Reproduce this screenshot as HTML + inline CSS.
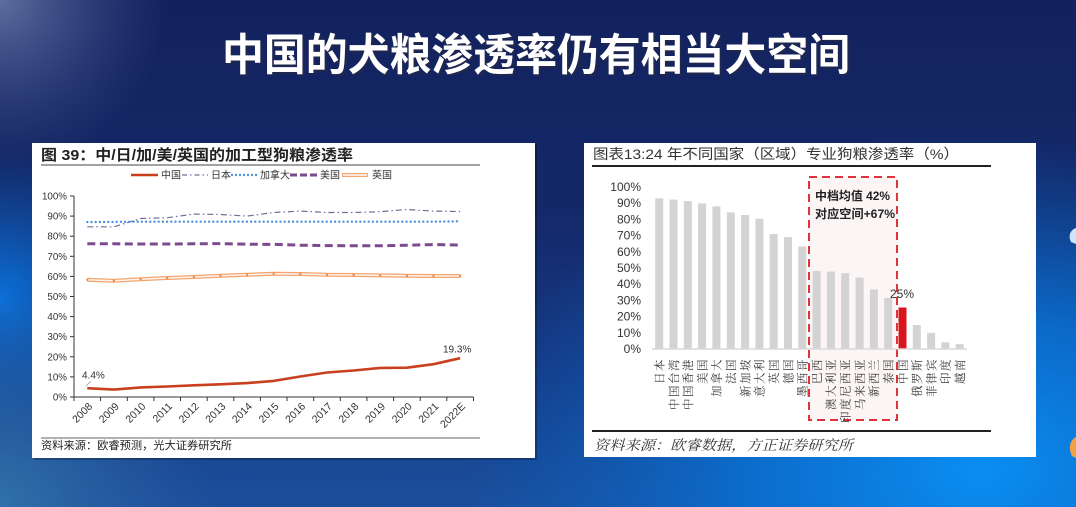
<!DOCTYPE html>
<html><head><meta charset="utf-8">
<style>
html,body{margin:0;padding:0;width:1076px;height:507px;overflow:hidden;background:#14266a;}
svg{display:block;}
.s{font-family:"Liberation Sans","Noto Sans CJK SC",sans-serif;}
.sf{font-family:"Liberation Serif","Noto Serif CJK SC",serif;}
</style></head>
<body>
<svg width="1076" height="507" viewBox="0 0 1076 507" xmlns="http://www.w3.org/2000/svg">
<defs>
<linearGradient id="bg" x1="0" y1="0" x2="0" y2="1">
<stop offset="0" stop-color="#13225e"/>
<stop offset="0.4" stop-color="#142868"/>
<stop offset="0.75" stop-color="#163a85"/>
<stop offset="1" stop-color="#1b4f9c"/>
</linearGradient>
<radialGradient id="rr" gradientUnits="userSpaceOnUse" cx="980" cy="470" r="520" gradientTransform="translate(980 470) scale(1 0.65) translate(-980 -470)">
<stop offset="0" stop-color="#0a8ef2" stop-opacity="1"/>
<stop offset="0.45" stop-color="#0a72d4" stop-opacity="0.85"/>
<stop offset="1" stop-color="#0a60c0" stop-opacity="0"/>
</radialGradient>
<radialGradient id="rl" gradientUnits="userSpaceOnUse" cx="0" cy="300" r="150">
<stop offset="0" stop-color="#0b70d8" stop-opacity="1"/>
<stop offset="1" stop-color="#0b60c0" stop-opacity="0"/>
</radialGradient>
<radialGradient id="rt" gradientUnits="userSpaceOnUse" cx="0" cy="0" r="170">
<stop offset="0" stop-color="#5e6e9e" stop-opacity="1"/>
<stop offset="1" stop-color="#3a4a88" stop-opacity="0"/>
</radialGradient>
<radialGradient id="rb" gradientUnits="userSpaceOnUse" cx="0" cy="507" r="220">
<stop offset="0" stop-color="#3070aa" stop-opacity="1"/>
<stop offset="1" stop-color="#2a60a0" stop-opacity="0"/>
</radialGradient>
</defs>

<!-- background -->
<rect x="0" y="0" width="1076" height="507" fill="url(#bg)"/>
<rect x="0" y="0" width="1076" height="507" fill="url(#rr)"/>
<rect x="0" y="0" width="1076" height="507" fill="url(#rl)"/>
<rect x="0" y="0" width="1076" height="507" fill="url(#rt)"/>
<rect x="0" y="0" width="1076" height="507" fill="url(#rb)"/>
<!-- right edge decorations -->
<path d="M1076 228 C1070 230 1068 236 1071 242 L1076 244 Z" fill="#cfe4ff"/>
<path d="M1076 437 C1070 440 1068 448 1072 456 L1076 458 Z" fill="#f3a040"/>

<!-- main title -->
<text x="536" y="70" text-anchor="middle" class="s" font-size="44" font-weight="bold" fill="#2a2a40" opacity="0.6" textLength="628" lengthAdjust="spacingAndGlyphs" transform="translate(2 2)">中国的犬粮渗透率仍有相当大空间</text>
<text x="536" y="70" text-anchor="middle" class="s" font-size="44" font-weight="bold" fill="#ffffff" textLength="628" lengthAdjust="spacingAndGlyphs">中国的犬粮渗透率仍有相当大空间</text>

<!-- LEFT PANEL -->
<rect x="34" y="145" width="503" height="315" fill="#000" opacity="0.25"/>
<rect x="32" y="143" width="503" height="315" fill="#ffffff"/>
<text x="41" y="160" class="s" font-size="15" font-weight="bold" fill="#222" textLength="312" lengthAdjust="spacingAndGlyphs">图 39：中/日/加/美/英国的加工型狗粮渗透率</text>
<line x1="41" y1="165" x2="480" y2="165" stroke="#444" stroke-width="1"/>

<!-- legend -->
<g class="s" font-size="10" fill="#333">
<line x1="131" y1="175" x2="158" y2="175" stroke="#c9401e" stroke-width="2.5"/>
<text x="161" y="178.5">中国</text>
<line x1="182" y1="175" x2="208" y2="175" stroke="#6b7096" stroke-width="1.2" stroke-dasharray="5 3 1.5 3"/>
<text x="211" y="178.5">日本</text>
<line x1="232" y1="175" x2="257" y2="175" stroke="#4d90de" stroke-width="2.4" stroke-linecap="round" stroke-dasharray="0 4"/>
<text x="260" y="178.5">加拿大</text>
<line x1="290" y1="175" x2="318" y2="175" stroke="#7b4b8e" stroke-width="3" stroke-dasharray="7 3"/>
<text x="320" y="178.5">美国</text>
<line x1="342" y1="175" x2="368" y2="175" stroke="#f3a46f" stroke-width="4"/>
<line x1="343" y1="175" x2="367" y2="175" stroke="#fff" stroke-width="1.6"/>
<text x="372" y="178.5">英国</text>
</g>

<!-- left axes -->
<g stroke="#333" stroke-width="1">
<line x1="74" y1="196" x2="74" y2="397"/>
<line x1="74" y1="397" x2="473.5" y2="397"/>
<line x1="70" y1="397" x2="74" y2="397"/>
<line x1="70" y1="376.9" x2="74" y2="376.9"/>
<line x1="70" y1="356.8" x2="74" y2="356.8"/>
<line x1="70" y1="336.7" x2="74" y2="336.7"/>
<line x1="70" y1="316.6" x2="74" y2="316.6"/>
<line x1="70" y1="296.5" x2="74" y2="296.5"/>
<line x1="70" y1="276.4" x2="74" y2="276.4"/>
<line x1="70" y1="256.3" x2="74" y2="256.3"/>
<line x1="70" y1="236.2" x2="74" y2="236.2"/>
<line x1="70" y1="216.1" x2="74" y2="216.1"/>
<line x1="70" y1="196" x2="74" y2="196"/>
<line x1="74" y1="397" x2="74" y2="401"/>
<line x1="100.6" y1="397" x2="100.6" y2="401"/>
<line x1="127.3" y1="397" x2="127.3" y2="401"/>
<line x1="153.9" y1="397" x2="153.9" y2="401"/>
<line x1="180.5" y1="397" x2="180.5" y2="401"/>
<line x1="207.2" y1="397" x2="207.2" y2="401"/>
<line x1="233.8" y1="397" x2="233.8" y2="401"/>
<line x1="260.4" y1="397" x2="260.4" y2="401"/>
<line x1="287" y1="397" x2="287" y2="401"/>
<line x1="313.7" y1="397" x2="313.7" y2="401"/>
<line x1="340.3" y1="397" x2="340.3" y2="401"/>
<line x1="366.9" y1="397" x2="366.9" y2="401"/>
<line x1="393.6" y1="397" x2="393.6" y2="401"/>
<line x1="420.2" y1="397" x2="420.2" y2="401"/>
<line x1="446.8" y1="397" x2="446.8" y2="401"/>
<line x1="473.5" y1="397" x2="473.5" y2="401"/>
</g>
<g class="s" font-size="9.8" fill="#333" text-anchor="end">
<text x="67" y="400.5">0%</text>
<text x="67" y="380.4">10%</text>
<text x="67" y="360.3">20%</text>
<text x="67" y="340.2">30%</text>
<text x="67" y="320.1">40%</text>
<text x="67" y="300">50%</text>
<text x="67" y="279.9">60%</text>
<text x="67" y="259.8">70%</text>
<text x="67" y="239.7">80%</text>
<text x="67" y="219.6">90%</text>
<text x="67" y="199.5">100%</text>
</g>
<g class="s" font-size="10.5" fill="#333" text-anchor="end">
<text transform="translate(93 407) rotate(-45)">2008</text>
<text transform="translate(119.6 407) rotate(-45)">2009</text>
<text transform="translate(146.3 407) rotate(-45)">2010</text>
<text transform="translate(172.9 407) rotate(-45)">2011</text>
<text transform="translate(199.5 407) rotate(-45)">2012</text>
<text transform="translate(226.2 407) rotate(-45)">2013</text>
<text transform="translate(252.8 407) rotate(-45)">2014</text>
<text transform="translate(279.4 407) rotate(-45)">2015</text>
<text transform="translate(306 407) rotate(-45)">2016</text>
<text transform="translate(332.7 407) rotate(-45)">2017</text>
<text transform="translate(359.3 407) rotate(-45)">2018</text>
<text transform="translate(385.9 407) rotate(-45)">2019</text>
<text transform="translate(412.6 407) rotate(-45)">2020</text>
<text transform="translate(439.2 407) rotate(-45)">2021</text>
<text transform="translate(465.8 407) rotate(-45)">2022E</text>
</g>

<!-- series -->
<polyline fill="none" stroke="#6b7096" stroke-width="1.2" stroke-dasharray="6 3 1.5 3" points="87.3,226.8 113.9,226.8 140.6,218.5 167.2,217.7 193.8,214.1 220.5,214.5 247.1,216.1 273.7,212.5 300.3,211.1 327,212.5 353.6,212.5 380.2,211.7 406.9,209.5 433.5,211.1 460.1,211.5"/>
<polyline fill="none" stroke="#4d90de" stroke-width="2.4" stroke-linecap="round" stroke-dasharray="0 4.2" points="87.3,222.1 113.9,221.9 140.6,221.7 167.2,221.7 193.8,221.7 220.5,221.7 247.1,221.7 273.7,221.7 300.3,221.7 327,221.7 353.6,221.7 380.2,221.7 406.9,221.7 433.5,221.7 460.1,221.3"/>
<polyline fill="none" stroke="#7b4b8e" stroke-width="3" stroke-dasharray="8 4.5" points="87.3,243.8 113.9,243.8 140.6,244 167.2,244 193.8,243.8 220.5,243.6 247.1,244.2 273.7,244.4 300.3,245.2 327,245.6 353.6,245.8 380.2,245.8 406.9,245.2 433.5,244.6 460.1,245"/>
<polyline fill="none" stroke="#f3a46f" stroke-width="4" stroke-linejoin="round" points="87.3,279.8 113.9,280.8 140.6,279.2 167.2,278 193.8,277 220.5,275.8 247.1,274.8 273.7,273.8 300.3,274 327,274.8 353.6,275 380.2,275.4 406.9,275.8 433.5,276 460.1,276"/>
<polyline fill="none" stroke="#fff4ec" stroke-width="1.5" stroke-linejoin="round" points="87.3,279.8 113.9,280.8 140.6,279.2 167.2,278 193.8,277 220.5,275.8 247.1,274.8 273.7,273.8 300.3,274 327,274.8 353.6,275 380.2,275.4 406.9,275.8 433.5,276 460.1,276"/>
<g fill="#f08a4a">
<circle cx="87.3" cy="279.8" r="1.2"/><circle cx="113.9" cy="280.8" r="1.2"/><circle cx="140.6" cy="279.2" r="1.2"/><circle cx="167.2" cy="278" r="1.2"/><circle cx="193.8" cy="277" r="1.2"/><circle cx="220.5" cy="275.8" r="1.2"/><circle cx="247.1" cy="274.8" r="1.2"/><circle cx="273.7" cy="273.8" r="1.2"/><circle cx="300.3" cy="274" r="1.2"/><circle cx="327" cy="274.8" r="1.2"/><circle cx="353.6" cy="275" r="1.2"/><circle cx="380.2" cy="275.4" r="1.2"/><circle cx="406.9" cy="275.8" r="1.2"/><circle cx="433.5" cy="276" r="1.2"/><circle cx="460.1" cy="276" r="1.2"/>
</g>
<polyline fill="none" stroke="#c9401e" stroke-width="2.6" stroke-linejoin="round" points="87.3,388.2 113.9,389.6 140.6,387.4 167.2,386.5 193.8,385.3 220.5,384.3 247.1,383.1 273.7,380.9 300.3,376.5 327,372.5 353.6,370.5 380.2,367.9 406.9,367.7 433.5,364.2 460.1,358.2"/>
<line x1="91" y1="381" x2="86" y2="386" stroke="#999" stroke-width="0.8"/>
<text x="82" y="378.5" class="s" font-size="10" fill="#333">4.4%</text>
<text x="443" y="352.5" class="s" font-size="10" fill="#333">19.3%</text>

<line x1="41" y1="438" x2="480" y2="438" stroke="#666" stroke-width="1"/>
<text x="41" y="449" class="s" font-size="11" fill="#222" textLength="191" lengthAdjust="spacingAndGlyphs">资料来源：欧睿预测，光大证券研究所</text>

<!-- RIGHT PANEL -->
<rect x="584" y="143" width="452" height="314" fill="#ffffff"/>
<text x="593" y="159" class="s" font-size="14" fill="#333" textLength="366" lengthAdjust="spacingAndGlyphs">图表13:24 年不同国家（区域）专业狗粮渗透率（%）</text>
<line x1="592" y1="166" x2="991" y2="166" stroke="#222" stroke-width="2"/>

<!-- dashed box -->
<rect x="809" y="177" width="88" height="243" fill="#fcf5f5" stroke="#e0323a" stroke-width="2" stroke-dasharray="8 5"/>
<text x="815" y="200" class="s" font-size="12" font-weight="bold" fill="#222" textLength="75" lengthAdjust="spacingAndGlyphs">中档均值 42%</text>
<text x="815" y="218" class="s" font-size="12" font-weight="bold" fill="#222" textLength="80" lengthAdjust="spacingAndGlyphs">对应空间+67%</text>

<!-- y labels -->
<g class="s" font-size="12" fill="#333" text-anchor="end">
<text x="641" y="353">0%</text>
<text x="641" y="336.8">10%</text>
<text x="641" y="320.6">20%</text>
<text x="641" y="304.4">30%</text>
<text x="641" y="288.2">40%</text>
<text x="641" y="272">50%</text>
<text x="641" y="255.8">60%</text>
<text x="641" y="239.6">70%</text>
<text x="641" y="223.4">80%</text>
<text x="641" y="207.2">90%</text>
<text x="641" y="191">100%</text>
</g>

<!-- bars -->
<g fill="#d3d3d3">
<rect x="655.2" y="198.3" width="8" height="150.7"/>
<rect x="669.5" y="199.6" width="8" height="149.4"/>
<rect x="683.8" y="201.1" width="8" height="147.9"/>
<rect x="698.1" y="203.4" width="8" height="145.6"/>
<rect x="712.4" y="206.4" width="8" height="142.6"/>
<rect x="726.8" y="212.4" width="8" height="136.6"/>
<rect x="741.1" y="215" width="8" height="134"/>
<rect x="755.4" y="218.8" width="8" height="130.2"/>
<rect x="769.7" y="234.1" width="8" height="114.9"/>
<rect x="784" y="237.1" width="8" height="111.9"/>
<rect x="798.3" y="246.5" width="8" height="102.5"/>
<rect x="812.6" y="270.9" width="8" height="78.1"/>
<rect x="826.9" y="271.6" width="8" height="77.4"/>
<rect x="841.2" y="273.2" width="8" height="75.8"/>
<rect x="855.6" y="277.6" width="8" height="71.4"/>
<rect x="869.9" y="289.5" width="8" height="59.5"/>
<rect x="884.2" y="298" width="8" height="51"/>
<rect x="912.8" y="325" width="8" height="24"/>
<rect x="927.1" y="332.8" width="8" height="16.2"/>
<rect x="941.4" y="342.4" width="8" height="6.6"/>
<rect x="955.7" y="344.1" width="8" height="4.9"/>
</g>
<rect x="898.5" y="307.5" width="8" height="41.5" fill="#d9141c"/>
<line x1="652" y1="349" x2="967" y2="349" stroke="#d9d9d9" stroke-width="1.5"/>
<text x="902" y="298" class="s" font-size="12" fill="#333" text-anchor="middle">25%</text>

<!-- x labels (rotated -90) -->
<g class="sf" font-size="11.5" fill="#333" text-anchor="end" letter-spacing="1.5">
<text transform="translate(663.5 358) rotate(-90)">日本</text>
<text transform="translate(677.8 358) rotate(-90)">中国台湾</text>
<text transform="translate(692.1 358) rotate(-90)">中国香港</text>
<text transform="translate(706.4 358) rotate(-90)">美国</text>
<text transform="translate(720.7 358) rotate(-90)">加拿大</text>
<text transform="translate(735.1 358) rotate(-90)">法国</text>
<text transform="translate(749.4 358) rotate(-90)">新加坡</text>
<text transform="translate(763.7 358) rotate(-90)">意大利</text>
<text transform="translate(778 358) rotate(-90)">英国</text>
<text transform="translate(792.3 358) rotate(-90)">德国</text>
<text transform="translate(806.6 358) rotate(-90)">墨西哥</text>
<text transform="translate(820.9 358) rotate(-90)">巴西</text>
<text transform="translate(835.2 358) rotate(-90)">澳大利亚</text>
<text transform="translate(849.5 358) rotate(-90)">印度尼西亚</text>
<text transform="translate(863.9 358) rotate(-90)">马来西亚</text>
<text transform="translate(878.2 358) rotate(-90)">新西兰</text>
<text transform="translate(892.5 358) rotate(-90)">泰国</text>
<text transform="translate(906.8 358) rotate(-90)">中国</text>
<text transform="translate(921.1 358) rotate(-90)">俄罗斯</text>
<text transform="translate(935.4 358) rotate(-90)">菲律宾</text>
<text transform="translate(949.7 358) rotate(-90)">印度</text>
<text transform="translate(964 358) rotate(-90)">越南</text>
</g>

<line x1="592" y1="431" x2="991" y2="431" stroke="#222" stroke-width="2"/>
<text x="594" y="450" class="sf" font-size="14" font-style="italic" fill="#333" textLength="259" lengthAdjust="spacingAndGlyphs">资料来源：欧睿数据，方正证券研究所</text>
</svg>
</body></html>
